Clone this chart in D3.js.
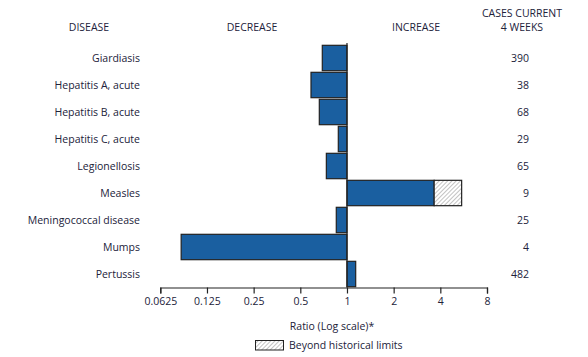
<!DOCTYPE html>
<html><head><meta charset="utf-8">
<script src="https://cdn.jsdelivr.net/npm/d3@7"></script>
<style>
body{margin:0;background:#fff;}
text{font-family:"Open Sans","Noto Sans",sans-serif;fill:#22223a;}
</style></head>
<body><svg id="c" width="588" height="357"></svg>
<script>
const diseases = ["Giardiasis","Hepatitis A, acute","Hepatitis B, acute","Hepatitis C, acute","Legionellosis","Measles","Meningococcal disease","Mumps","Pertussis"];
const ratios = [0.693,0.586,0.663,0.879,0.736,3.65,0.853,0.0852,1.138];
const beyondLimit = [null,null,null,null,null,5.49,null,null,null];
const cases = ["390","38","68","29","65","9","25","4","482"];
const tickValues = [0.0625,0.125,0.25,0.5,1,2,4,8];
const tickLabels = ["0.0625","0.125","0.25","0.5","1","2","4","8"];

const svg = d3.select("#c");
const defs = svg.append("defs");
const pat = defs.append("pattern").attr("id","hatch").attr("patternUnits","userSpaceOnUse")
  .attr("width",3).attr("height",3).attr("patternTransform","rotate(45)");
pat.append("rect").attr("width",3).attr("height",3).attr("fill","#fff");
pat.append("line").attr("x1",0).attr("y1",0).attr("x2",0).attr("y2",3).attr("stroke","#9a9a9a").attr("stroke-width",1.2);

const x = d3.scaleLog().base(2).domain([0.0625,8]).range([160.3,487]);
const y = d3.scaleBand().domain(diseases).range([44.5,287.5]).paddingInner(0.06).paddingOuter(0.03);

const fs = 10.5;
// headers
svg.append("text").attr("x",89).attr("y",31).attr("text-anchor","middle").attr("font-size",fs).text("DISEASE");
svg.append("text").attr("x",252).attr("y",31).attr("text-anchor","middle").attr("font-size",fs).text("DECREASE");
svg.append("text").attr("x",416).attr("y",31).attr("text-anchor","middle").attr("font-size",fs).text("INCREASE");
svg.append("text").attr("x",522).attr("y",17).attr("text-anchor","middle").attr("font-size",fs).text("CASES CURRENT");
svg.append("text").attr("x",522).attr("y",31).attr("text-anchor","middle").attr("font-size",fs).text("4 WEEKS");

// labels
svg.selectAll(".lab").data(diseases).enter().append("text")
  .attr("x",140).attr("y",d=>y(d)+y.bandwidth()/2+4).attr("text-anchor","end").attr("font-size",fs).text(d=>d);
svg.selectAll(".cnt").data(cases).enter().append("text")
  .attr("x",529).attr("y",(d,i)=>y(diseases[i])+y.bandwidth()/2+4).attr("text-anchor","end").attr("font-size",fs).text(d=>d);

// bars
svg.selectAll(".bar").data(ratios).enter().append("rect")
  .attr("x",d=>Math.min(x(d),x(1))).attr("y",(d,i)=>y(diseases[i]))
  .attr("width",d=>Math.abs(x(d)-x(1))).attr("height",y.bandwidth())
  .attr("fill","#1a5fa0").attr("stroke","#222").attr("stroke-width",1.2);
svg.selectAll(".beyond").data(beyondLimit.map((v,i)=>({v,i})).filter(d=>d.v!=null)).enter().append("rect")
  .attr("x",d=>x(ratios[d.i])).attr("y",d=>y(diseases[d.i]))
  .attr("width",d=>x(d.v)-x(ratios[d.i])).attr("height",y.bandwidth())
  .attr("fill","url(#hatch)").attr("stroke","#222").attr("stroke-width",1.2);

// center line
svg.append("line").attr("x1",x(1)).attr("x2",x(1)).attr("y1",43).attr("y2",287.5).attr("stroke","#222").attr("stroke-width",1.2);

// axis
const ax = svg.append("g").attr("transform","translate(0,287.5)")
  .call(d3.axisBottom(x).tickValues(tickValues).tickFormat((d,i)=>tickLabels[i]).tickSize(6).tickPadding(4));
ax.select(".domain").attr("stroke","#222").attr("stroke-width",1.2);
ax.selectAll(".tick line").attr("stroke","#222").attr("stroke-width",1.2);
ax.selectAll(".tick text").attr("font-size",fs).attr("font-family","'Open Sans','Noto Sans',sans-serif").attr("fill","#22223a");

svg.append("text").attr("x",332).attr("y",330).attr("text-anchor","middle").attr("font-size",fs).text("Ratio (Log scale)*");
svg.append("rect").attr("x",255.5).attr("y",340.5).attr("width",28).attr("height",9.5).attr("fill","url(#hatch)").attr("stroke","#222").attr("stroke-width",1);
svg.append("text").attr("x",289).attr("y",349).attr("font-size",fs).text("Beyond historical limits");
</script></body></html>
